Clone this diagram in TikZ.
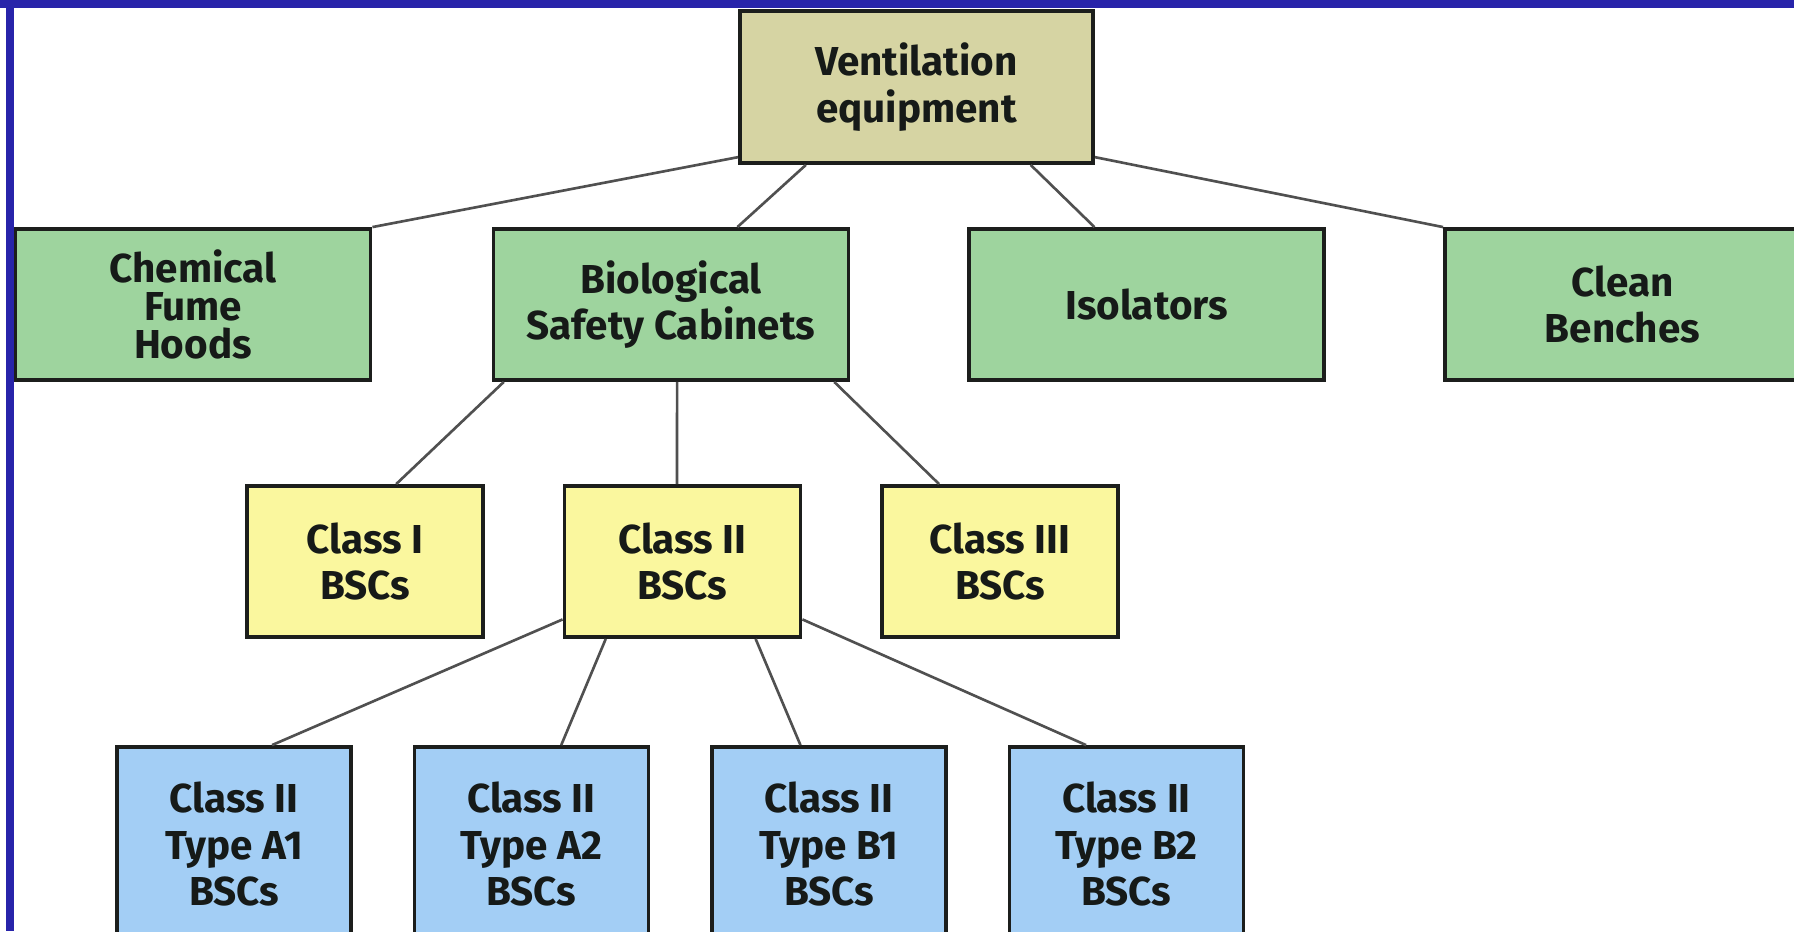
\documentclass[tikz,border=0pt]{standalone}
\usepackage{fontspec}
\setmainfont{Fira Sans}
\usetikzlibrary{calc}

\definecolor{framblue}{RGB}{40,36,170}
\definecolor{ventfill}{RGB}{214,212,163}
\definecolor{greenfill}{RGB}{158,212,158}
\definecolor{yellowfill}{RGB}{250,247,158}
\definecolor{bluefill}{RGB}{163,206,245}
\definecolor{boxline}{RGB}{28,30,28}
\definecolor{linkgrey}{RGB}{80,80,80}
\definecolor{textdark}{RGB}{22,26,24}

\begin{document}
\begin{tikzpicture}[line width=0.7pt,
  box/.style={draw=boxline,line width=1.1pt,align=center,inner sep=0pt,text=textdark,
    font=\bfseries\fontsize{11.5}{13.2}\selectfont},
  ventbox/.style={box,fill=ventfill,minimum width=3.53cm,minimum height=1.52cm},
  groupbox/.style={box,fill=greenfill,minimum width=3.55cm,minimum height=1.51cm},
  classbox/.style={box,fill=yellowfill,minimum width=2.36cm,minimum height=1.51cm},
  typebox/.style={box,fill=bluefill,minimum width=2.34cm,minimum height=1.94cm},
  link/.style={draw=linkgrey,line width=0.75pt}]
\useasboundingbox (0,0) rectangle (17.94,-9.31);
\clip (0,0) rectangle (17.94,-9.31);
% frame
\fill[framblue] (0,0) rectangle (17.94,-0.08);
\fill[framblue] (0.06,0) rectangle (0.14,-9.31);
% top
\node[ventbox] (vent) at (9.165,-0.87) {Ventilation\\equipment};
% second row
\node[groupbox] (chem) at (1.93,-3.045) {Chemical\\[-2.3pt]Fume\\[-2.3pt]Hoods};
\node[groupbox] (bio) at (6.71,-3.045) {Biological\\Safety Cabinets};
\node[groupbox] (iso) at (11.465,-3.045) {Isolators};
\node[groupbox] (clean) at (16.225,-3.045) {Clean\\Benches};
% classes
\node[classbox] (cls1) at (3.65,-5.615) {Class I\\BSCs};
\node[classbox] (cls2) at (6.825,-5.615) {Class II\\BSCs};
\node[classbox] (cls3) at (10.00,-5.615) {Class III\\BSCs};
% class II types
\node[typebox] (a1) at (2.34,-8.44) {Class II\\Type A1\\BSCs};
\node[typebox] (a2) at (5.315,-8.44) {Class II\\Type A2\\BSCs};
\node[typebox] (b1) at (8.29,-8.44) {Class II\\Type B1\\BSCs};
\node[typebox] (b2) at (11.265,-8.44) {Class II\\Type B2\\BSCs};
% links
\draw[link] ($(vent.north west)!0.95!(vent.south west)$) -- (chem.north east);
\draw[link] ($(vent.south west)!0.19!(vent.south east)$) -- ($(bio.north west)!0.685!(bio.north east)$);
\draw[link] ($(vent.south west)!0.82!(vent.south east)$) -- ($(iso.north west)!0.355!(iso.north east)$);
\draw[link] ($(vent.north east)!0.95!(vent.south east)$) -- (clean.north west);
\draw[link] ($(bio.south west)!0.034!(bio.south east)$) -- ($(cls1.north west)!0.63!(cls1.north east)$);
\draw[link] ($(bio.south west)!0.517!(bio.south east)$) -- ($(cls2.north west)!0.477!(cls2.north east)$);
\draw[link] ($(bio.south west)!0.955!(bio.south east)$) -- ($(cls3.north west)!0.246!(cls3.north east)$);
\draw[link] ($(cls2.north west)!0.874!(cls2.south west)$) -- ($(a1.north west)!0.66!(a1.north east)$);
\draw[link] ($(cls2.south west)!0.18!(cls2.south east)$) -- ($(a2.north west)!0.625!(a2.north east)$);
\draw[link] ($(cls2.south west)!0.805!(cls2.south east)$) -- ($(b1.north west)!0.38!(b1.north east)$);
\draw[link] ($(cls2.north east)!0.874!(cls2.south east)$) -- ($(b2.north west)!0.33!(b2.north east)$);
\end{tikzpicture}
\end{document}
